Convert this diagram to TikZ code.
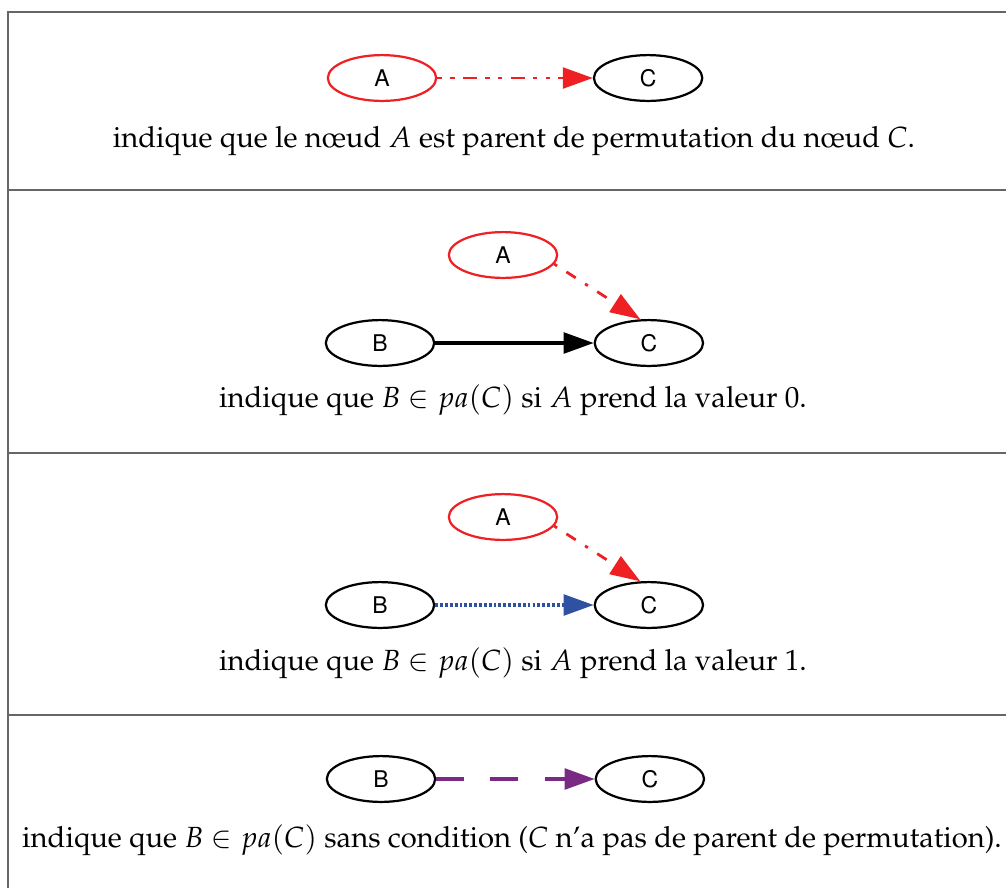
\documentclass[tikz,border=0pt]{standalone}
\usepackage[T1]{fontenc}
\usepackage{mathpazo}
\usepackage[scaled=0.92]{helvet}
\usepackage{amssymb,amsmath}
\usetikzlibrary{positioning,shapes,arrows.meta}

\definecolor{parred}{HTML}{EE2024}
\definecolor{parblue}{HTML}{2E51A2}
\definecolor{parpurple}{HTML}{7A2A82}

\begin{document}
\begin{tikzpicture}[x=0.36pt, y=-0.36pt, node distance=56pt,
        var/.style = {draw, ellipse, line width=0.8pt, minimum width=39pt, minimum height=16.5pt, inner sep=0pt, font=\fontsize{9}{10}\sffamily},
        perm/.style = {var, draw=parred},
        tip/.style = {-{Triangle[length=10.8pt,width=7.5pt]}, line width=1pt},
        rule/.style = {draw=black!60, line width=0.6pt},
        legend/.style = {anchor=base, font=\fontsize{10.5}{12.6}\selectfont}]
        \useasboundingbox (0,0) rectangle (1006,888);
        % table
        \draw[rule] (1006,12) -- (8,12) -- (8,888);
        \foreach \y in {190,453,715}
            \draw[rule] (8,\y) -- (1006,\y);
        % row 1
        \node[perm] (a1) at (382,78) {A};
        \node[var, right=of a1] (c1) {C};
        \draw[tip, parred, dash pattern=on 1.6pt off 3pt on 1.6pt off 3pt on 5pt off 3pt] (a1) -- (c1);
        \node[legend] (t1) at (514,147) {indique que le n\oe ud $A$ est parent de permutation du n\oe ud $C$.};
        % row 2
        \node[var] (b2) at (380,343) {B};
        \node[var, right=57pt of b2] (c2) {C};
        \node[perm] (a2) at (503,255) {A};
        \draw[tip, line width=1.1pt] (b2) -- (c2);
        \draw[tip, parred, dash pattern=on 1.2pt off 4pt on 4pt off 4pt] (a2.-10) -- (c2.110);
        \node[legend] (t2) at (513,407) {indique que $B \in pa(C)$ si $A$ prend la valeur 0.};
        % row 3
        \node[var] (b3) at (380,605) {B};
        \node[var, right=57pt of b3] (c3) {C};
        \node[perm] (a3) at (503,517) {A};
        \draw[tip, parblue, line width=1.1pt, dash pattern=on 1pt off 0.75pt] (b3) -- (c3);
        \draw[tip, parred, dash pattern=on 1.2pt off 4pt on 4pt off 4pt] (a3.-10) -- (c3.110);
        \node[legend] (t3) at (513,670) {indique que $B \in pa(C)$ si $A$ prend la valeur 1.};
        % row 4
        \node[var] (b4) at (381,779) {B};
        \node[var, right=57pt of b4] (c4) {C};
        \draw[tip, parpurple, line width=1.1pt, dash pattern=on 10pt off 9.5pt] (b4) -- (c4);
        \node[legend] (t4) at (512,847) {indique que $B \in pa(C)$ sans condition ($C$ n'a pas de parent de permutation).};
    \end{tikzpicture}
\end{document}
